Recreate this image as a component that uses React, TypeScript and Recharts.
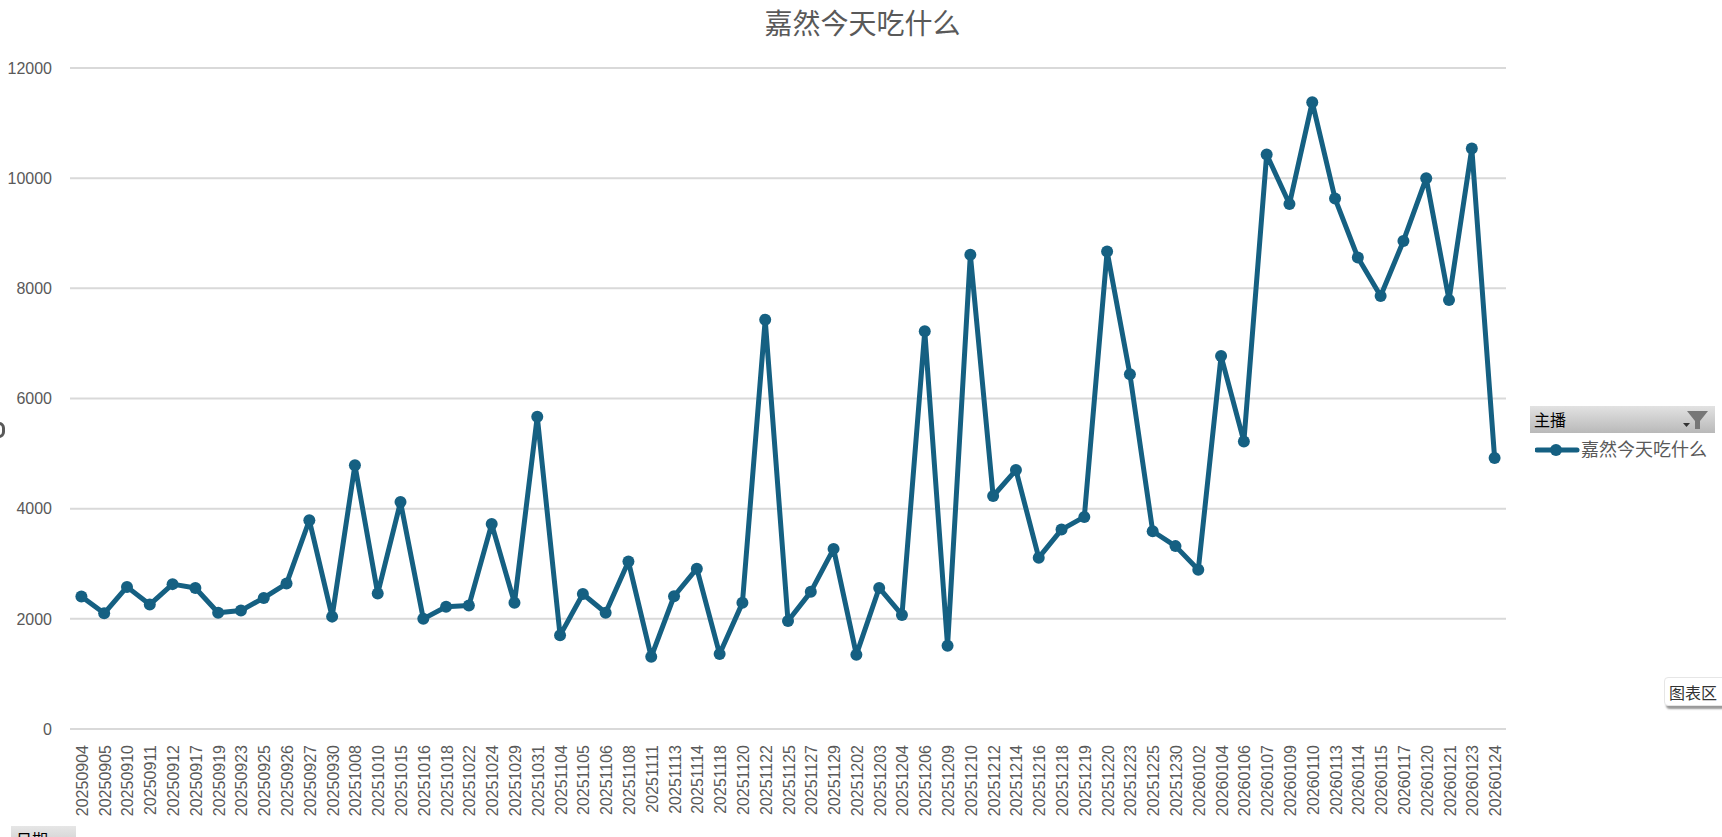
import React from 'react';
import { LineChart, Line, XAxis, YAxis, CartesianGrid, Legend } from 'recharts';

const dates = ['20250904','20250905','20250910','20250911','20250912','20250917','20250919','20250923','20250925','20250926','20250927','20250930','20251008','20251010','20251015','20251016','20251018','20251022','20251024','20251029','20251031','20251104','20251105','20251106','20251108','20251111','20251113','20251114','20251118','20251120','20251122','20251125','20251127','20251129','20251202','20251203','20251204','20251206','20251209','20251210','20251212','20251214','20251216','20251218','20251219','20251220','20251223','20251225','20251230','20260102','20260104','20260106','20260107','20260109','20260110','20260113','20260114','20260115','20260117','20260120','20260121','20260123','20260124'];
const values = [2405,2100,2580,2260,2630,2560,2110,2150,2380,2640,3790,2040,4790,2460,4120,2000,2220,2240,3720,2290,5670,1700,2450,2110,3040,1310,2410,2910,1360,2290,7430,1960,2490,3270,1350,2560,2070,7220,1510,8610,4230,4700,3110,3620,3850,8670,6440,3590,3320,2890,6770,5220,10430,9530,11380,9630,8560,7860,8860,10000,7790,10540,4920];
const yTicks = [0,2000,4000,6000,8000,10000,12000];
const seriesName = '嘉然今天吃什么';
const rows = dates.map((d, i) => ({ date: d, value: values[i] }));

const FONT = '"Liberation Sans", "Noto Sans CJK SC", sans-serif';
const TEXT = '#595959';
const BLUE = '#156082';

const XTick = (p: any) => (
  <text x={0} y={0} transform={`translate(${p.x + 6.5},${p.y}) rotate(-90)`} textAnchor="end" fontSize={16} fontFamily={FONT} fill={TEXT}>
    {p.payload.value}
  </text>
);

const LegendBox = () => (
  <div style={{ position: 'absolute', left: 1535, top: 438, display: 'flex', alignItems: 'center', fontFamily: FONT, fontSize: 18, color: TEXT, lineHeight: '24px', whiteSpace: 'nowrap' }}>
    <svg width={46} height={16} style={{ display: 'block' }}>
      <line x1={2} y1={8} x2={42} y2={8} stroke={BLUE} strokeWidth={5} strokeLinecap="round" />
      <circle cx={21} cy={8} r={6} fill={BLUE} />
    </svg>
    <span>{seriesName}</span>
  </div>
);

export default function App() {
  return (
    <div style={{ position: 'absolute', left: 0, top: 0, width: 1722, height: 837, overflow: 'hidden', background: '#fff' }}>
      <LineChart width={1722} height={837} data={rows} margin={{ top: 68, right: 216, bottom: 0, left: 0 }}>
        <CartesianGrid vertical={false} stroke="#d9d9d9" strokeWidth={2} />
        <XAxis dataKey="date" scale="band" interval={0} axisLine={{ stroke: '#d9d9d9', strokeWidth: 2 }} tickLine={false} tick={XTick} tickMargin={10} height={108} />
        <YAxis domain={[0, 12000]} ticks={yTicks} axisLine={false} tickLine={false} width={70} tickMargin={12} tick={{ fontSize: 16, fontFamily: FONT, fill: TEXT }} />
        <Line dataKey="value" name={seriesName} stroke={BLUE} strokeWidth={5} strokeLinejoin="round" dot={{ r: 6, fill: BLUE, stroke: BLUE, strokeWidth: 0 }} isAnimationActive={false} />
        <Legend content={LegendBox} wrapperStyle={{ position: 'static' }} />
      </LineChart>
      <div style={{ position: 'absolute', left: 0, width: 1725, top: 7, textAlign: 'center', fontFamily: FONT, fontSize: 28, color: TEXT, lineHeight: '36px' }}>{seriesName}</div>
      <div style={{ position: 'absolute', left: 1530, top: 406, width: 185, height: 27, background: 'linear-gradient(#e2e2e2,#b9b9b9)', fontFamily: '"Noto Sans CJK SC"', fontSize: 16, color: '#000', lineHeight: '27px', paddingLeft: 4, boxSizing: 'border-box' }}>
        主播
        <svg width={40} height={27} style={{ position: 'absolute', right: 0, top: 0 }}>
          <path d="M8 17h7l-3.500 4z" fill="#333" />
          <path d="M12 5h21l-8 10v8h-5v-8z" fill="#777" />
        </svg>
      </div>
      <div style={{ position: 'absolute', left: 1664, top: 677, width: 70, height: 29, background: '#fff', border: '1px solid #e6e6e6', borderRadius: 4, boxShadow: '2px 3px 2px #999', fontFamily: '"Noto Sans CJK SC"', fontSize: 16, color: '#333', lineHeight: '28px', paddingLeft: 4, boxSizing: 'border-box', whiteSpace: 'nowrap' }}>图表区</div>
      <div style={{ position: 'absolute', left: 11, top: 826, width: 65, height: 30, background: 'linear-gradient(#e6e6e6,#c4c4c4)', fontFamily: '"Noto Sans CJK SC"', fontSize: 16, color: '#000', lineHeight: '27px', paddingLeft: 5, boxSizing: 'border-box' }}>日期</div>
      <div style={{ position: 'absolute', left: -7, top: 422, width: 12, height: 16, border: '3px solid #595959', borderRadius: 8, boxSizing: 'border-box' }} />
    </div>
  );
}
